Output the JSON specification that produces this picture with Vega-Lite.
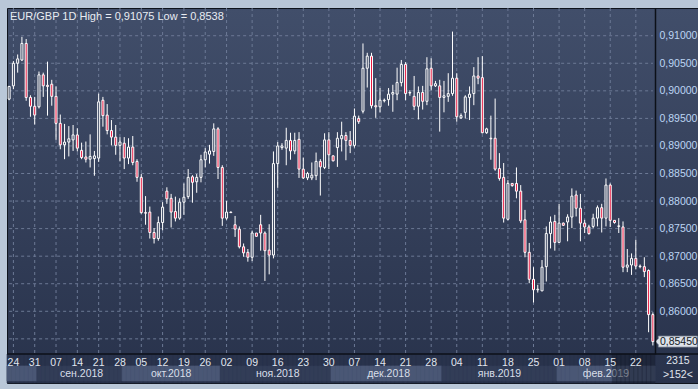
{
  "$schema": "https://vega.github.io/schema/vega-lite/v6.json",
  "width": 691,
  "height": 375,
  "autosize": {"type": "none"},
  "padding": {"left": 7, "top": 8, "right": 0, "bottom": 6},
  "background": "#b9c7d8",
  "title": {"text": "EUR/GBP 1D High = 0,91075 Low = 0,8538", "anchor": "start", "frame": "group", "orient": "top", "offset": -14, "dx": 3, "fontSize": 11, "fontWeight": "normal", "font": "Liberation Sans", "color": "#e8ecf2"},
  "config": {
    "locale": {"number": {"decimal": ",", "thousands": " ", "grouping": [3], "currency": ["", ""]}},
    "view": {
      "fill": {"gradient": "linear", "x1": 0, "y1": 0, "x2": 0, "y2": 1, "stops": [{"offset": 0, "color": "#414e6a"}, {"offset": 1, "color": "#28324b"}]},
      "stroke": "#0f141d",
      "strokeWidth": 1
    }
  },
  "resolve": {"axis": {"x": "independent", "y": "independent"}},
  "datasets": {
    "candles": [
      {"d":"2018-08-23","o":0.8985,"h":0.9009,"l":0.8983,"c":0.9008},
      {"d":"2018-08-24","o":0.9009,"h":0.9054,"l":0.9003,"c":0.9050},
      {"d":"2018-08-27","o":0.9050,"h":0.9066,"l":0.9033,"c":0.9058},
      {"d":"2018-08-28","o":0.9056,"h":0.9098,"l":0.9054,"c":0.9086},
      {"d":"2018-08-29","o":0.9086,"h":0.9094,"l":0.8982,"c":0.8988},
      {"d":"2018-08-30","o":0.8988,"h":0.8992,"l":0.8953,"c":0.8972},
      {"d":"2018-08-31","o":0.8972,"h":0.8989,"l":0.8939,"c":0.8956},
      {"d":"2018-09-03","o":0.8971,"h":0.9035,"l":0.8968,"c":0.9029},
      {"d":"2018-09-04","o":0.9029,"h":0.9033,"l":0.8989,"c":0.9009},
      {"d":"2018-09-05","o":0.9010,"h":0.9053,"l":0.8955,"c":0.9008},
      {"d":"2018-09-06","o":0.9012,"h":0.9020,"l":0.8973,"c":0.8990},
      {"d":"2018-09-07","o":0.8990,"h":0.9008,"l":0.8911,"c":0.8941},
      {"d":"2018-09-10","o":0.8941,"h":0.8957,"l":0.8894,"c":0.8902},
      {"d":"2018-09-11","o":0.8902,"h":0.8940,"l":0.8876,"c":0.8907},
      {"d":"2018-09-12","o":0.8907,"h":0.8936,"l":0.8881,"c":0.8913},
      {"d":"2018-09-13","o":0.8911,"h":0.8938,"l":0.8891,"c":0.8920},
      {"d":"2018-09-14","o":0.8920,"h":0.8932,"l":0.8890,"c":0.8896},
      {"d":"2018-09-17","o":0.8892,"h":0.8906,"l":0.8876,"c":0.8879},
      {"d":"2018-09-18","o":0.8880,"h":0.8908,"l":0.8870,"c":0.8876},
      {"d":"2018-09-19","o":0.8876,"h":0.8921,"l":0.8861,"c":0.8881},
      {"d":"2018-09-20","o":0.8877,"h":0.8891,"l":0.8846,"c":0.8882},
      {"d":"2018-09-21","o":0.8878,"h":0.8995,"l":0.8871,"c":0.8980},
      {"d":"2018-09-24","o":0.8983,"h":0.8989,"l":0.8935,"c":0.8955},
      {"d":"2018-09-25","o":0.8956,"h":0.8976,"l":0.8921,"c":0.8928},
      {"d":"2018-09-26","o":0.8928,"h":0.8947,"l":0.8901,"c":0.8916},
      {"d":"2018-09-27","o":0.8916,"h":0.8938,"l":0.8884,"c":0.8901},
      {"d":"2018-09-28","o":0.8901,"h":0.8916,"l":0.8872,"c":0.8907},
      {"d":"2018-10-01","o":0.8905,"h":0.8916,"l":0.8858,"c":0.8878},
      {"d":"2018-10-02","o":0.8878,"h":0.8914,"l":0.8867,"c":0.8898},
      {"d":"2018-10-03","o":0.8898,"h":0.8918,"l":0.8865,"c":0.8870},
      {"d":"2018-10-04","o":0.8872,"h":0.8876,"l":0.8835,"c":0.8843},
      {"d":"2018-10-05","o":0.8843,"h":0.8849,"l":0.8777,"c":0.8779},
      {"d":"2018-10-08","o":0.8779,"h":0.8809,"l":0.8757,"c":0.8778},
      {"d":"2018-10-09","o":0.8780,"h":0.8790,"l":0.8732,"c":0.8743},
      {"d":"2018-10-10","o":0.8743,"h":0.8751,"l":0.8723,"c":0.8732},
      {"d":"2018-10-11","o":0.8732,"h":0.8772,"l":0.8728,"c":0.8761},
      {"d":"2018-10-12","o":0.8761,"h":0.8798,"l":0.8747,"c":0.8789},
      {"d":"2018-10-15","o":0.8818,"h":0.8825,"l":0.8795,"c":0.8804},
      {"d":"2018-10-16","o":0.8805,"h":0.8813,"l":0.8752,"c":0.8780},
      {"d":"2018-10-17","o":0.8781,"h":0.8808,"l":0.8763,"c":0.8769},
      {"d":"2018-10-18","o":0.8769,"h":0.8805,"l":0.8766,"c":0.8798},
      {"d":"2018-10-19","o":0.8798,"h":0.8832,"l":0.8775,"c":0.8807},
      {"d":"2018-10-22","o":0.8808,"h":0.8858,"l":0.8804,"c":0.8843},
      {"d":"2018-10-23","o":0.8844,"h":0.8847,"l":0.8797,"c":0.8834},
      {"d":"2018-10-24","o":0.8835,"h":0.8849,"l":0.8815,"c":0.8843},
      {"d":"2018-10-25","o":0.8843,"h":0.8884,"l":0.8834,"c":0.8875},
      {"d":"2018-10-26","o":0.8875,"h":0.8896,"l":0.8861,"c":0.8889},
      {"d":"2018-10-29","o":0.8885,"h":0.8902,"l":0.8868,"c":0.8891},
      {"d":"2018-10-30","o":0.8890,"h":0.8941,"l":0.8882,"c":0.8931},
      {"d":"2018-10-31","o":0.8931,"h":0.8934,"l":0.8840,"c":0.8861},
      {"d":"2018-11-01","o":0.8861,"h":0.8865,"l":0.8755,"c":0.8769},
      {"d":"2018-11-02","o":0.8769,"h":0.8800,"l":0.8766,"c":0.8780},
      {"d":"2018-11-04","o":0.8780,"h":0.8781,"l":0.8779,"c":0.8779},
      {"d":"2018-11-05","o":0.8757,"h":0.8773,"l":0.8735,"c":0.8749},
      {"d":"2018-11-06","o":0.8749,"h":0.8754,"l":0.8714,"c":0.8717},
      {"d":"2018-11-07","o":0.8717,"h":0.8723,"l":0.8699,"c":0.8706},
      {"d":"2018-11-08","o":0.8707,"h":0.8713,"l":0.8690,"c":0.8698},
      {"d":"2018-11-09","o":0.8698,"h":0.8746,"l":0.8691,"c":0.8742},
      {"d":"2018-11-11","o":0.8742,"h":0.8742,"l":0.8736,"c":0.8736},
      {"d":"2018-11-12","o":0.8757,"h":0.8775,"l":0.8710,"c":0.8742},
      {"d":"2018-11-13","o":0.8742,"h":0.8745,"l":0.8655,"c":0.8710},
      {"d":"2018-11-14","o":0.8711,"h":0.8758,"l":0.8667,"c":0.8702},
      {"d":"2018-11-15","o":0.8702,"h":0.8890,"l":0.8696,"c":0.8868},
      {"d":"2018-11-16","o":0.8868,"h":0.8907,"l":0.8824,"c":0.8900},
      {"d":"2018-11-18","o":0.8897,"h":0.8905,"l":0.8893,"c":0.8900},
      {"d":"2018-11-19","o":0.8896,"h":0.8933,"l":0.8865,"c":0.8910},
      {"d":"2018-11-20","o":0.8910,"h":0.8924,"l":0.8875,"c":0.8891},
      {"d":"2018-11-21","o":0.8891,"h":0.8924,"l":0.8885,"c":0.8910},
      {"d":"2018-11-22","o":0.8912,"h":0.8925,"l":0.8842,"c":0.8858},
      {"d":"2018-11-23","o":0.8858,"h":0.8879,"l":0.8840,"c":0.8842},
      {"d":"2018-11-25","o":0.8842,"h":0.8853,"l":0.8838,"c":0.8850},
      {"d":"2018-11-26","o":0.8842,"h":0.8870,"l":0.8838,"c":0.8847},
      {"d":"2018-11-27","o":0.8846,"h":0.8888,"l":0.8838,"c":0.8872},
      {"d":"2018-11-28","o":0.8872,"h":0.8876,"l":0.8810,"c":0.8862},
      {"d":"2018-11-29","o":0.8861,"h":0.8923,"l":0.8858,"c":0.8911},
      {"d":"2018-11-30","o":0.8911,"h":0.8925,"l":0.8858,"c":0.8884},
      {"d":"2018-12-02","o":0.8882,"h":0.8883,"l":0.8872,"c":0.8873},
      {"d":"2018-12-03","o":0.8897,"h":0.8925,"l":0.8862,"c":0.8914},
      {"d":"2018-12-04","o":0.8913,"h":0.8944,"l":0.8890,"c":0.8919},
      {"d":"2018-12-05","o":0.8919,"h":0.8925,"l":0.8874,"c":0.8910},
      {"d":"2018-12-06","o":0.8910,"h":0.8927,"l":0.8887,"c":0.8901},
      {"d":"2018-12-07","o":0.8901,"h":0.8968,"l":0.8897,"c":0.8954},
      {"d":"2018-12-09","o":0.8950,"h":0.8955,"l":0.8940,"c":0.8944},
      {"d":"2018-12-10","o":0.8963,"h":0.9086,"l":0.8959,"c":0.9041},
      {"d":"2018-12-11","o":0.9041,"h":0.9069,"l":0.9006,"c":0.9063},
      {"d":"2018-12-12","o":0.9063,"h":0.9069,"l":0.8968,"c":0.8973},
      {"d":"2018-12-13","o":0.8973,"h":0.9023,"l":0.8951,"c":0.8971},
      {"d":"2018-12-14","o":0.8971,"h":0.9005,"l":0.8961,"c":0.8983},
      {"d":"2018-12-16","o":0.8982,"h":0.8986,"l":0.8979,"c":0.8983},
      {"d":"2018-12-17","o":0.8984,"h":0.9005,"l":0.8973,"c":0.8994},
      {"d":"2018-12-18","o":0.8994,"h":0.9011,"l":0.8962,"c":0.8997},
      {"d":"2018-12-19","o":0.8994,"h":0.9042,"l":0.8983,"c":0.9015},
      {"d":"2018-12-20","o":0.9015,"h":0.9056,"l":0.9008,"c":0.9048},
      {"d":"2018-12-21","o":0.9048,"h":0.9052,"l":0.8983,"c":0.8995},
      {"d":"2018-12-23","o":0.8996,"h":0.9001,"l":0.8991,"c":0.8997},
      {"d":"2018-12-24","o":0.8990,"h":0.9027,"l":0.8965,"c":0.8972},
      {"d":"2018-12-25","o":0.8972,"h":0.9008,"l":0.8948,"c":0.8997},
      {"d":"2018-12-26","o":0.8997,"h":0.9009,"l":0.8966,"c":0.8981},
      {"d":"2018-12-27","o":0.8981,"h":0.9061,"l":0.8974,"c":0.9040},
      {"d":"2018-12-28","o":0.9041,"h":0.9059,"l":0.9001,"c":0.9009},
      {"d":"2018-12-30","o":0.9009,"h":0.9018,"l":0.9007,"c":0.9013},
      {"d":"2018-12-31","o":0.9009,"h":0.9020,"l":0.8926,"c":0.8988},
      {"d":"2019-01-01","o":0.8988,"h":0.9018,"l":0.8961,"c":0.8991},
      {"d":"2019-01-02","o":0.8990,"h":0.9032,"l":0.8980,"c":0.8995},
      {"d":"2019-01-03","o":0.8995,"h":0.91075,"l":0.8991,"c":0.9023},
      {"d":"2019-01-04","o":0.9023,"h":0.9032,"l":0.8944,"c":0.8953},
      {"d":"2019-01-06","o":0.8951,"h":0.8959,"l":0.8949,"c":0.8955},
      {"d":"2019-01-07","o":0.8961,"h":0.8992,"l":0.8950,"c":0.8989},
      {"d":"2019-01-08","o":0.8988,"h":0.9008,"l":0.8947,"c":0.8994},
      {"d":"2019-01-09","o":0.8995,"h":0.9043,"l":0.8974,"c":0.9027},
      {"d":"2019-01-10","o":0.9027,"h":0.9061,"l":0.9012,"c":0.9023},
      {"d":"2019-01-11","o":0.9024,"h":0.9063,"l":0.8923,"c":0.8924},
      {"d":"2019-01-13","o":0.8924,"h":0.8933,"l":0.8922,"c":0.8931},
      {"d":"2019-01-14","o":0.8914,"h":0.8955,"l":0.8875,"c":0.8913},
      {"d":"2019-01-15","o":0.8914,"h":0.8986,"l":0.8855,"c":0.8858},
      {"d":"2019-01-16","o":0.8859,"h":0.8887,"l":0.8837,"c":0.8841},
      {"d":"2019-01-17","o":0.8843,"h":0.8869,"l":0.8761,"c":0.8769},
      {"d":"2019-01-18","o":0.8767,"h":0.8838,"l":0.8765,"c":0.8832},
      {"d":"2019-01-20","o":0.8832,"h":0.8832,"l":0.8826,"c":0.8828},
      {"d":"2019-01-21","o":0.8832,"h":0.8861,"l":0.8805,"c":0.8818},
      {"d":"2019-01-22","o":0.8818,"h":0.8829,"l":0.8760,"c":0.8764},
      {"d":"2019-01-23","o":0.8766,"h":0.8784,"l":0.8698,"c":0.8707},
      {"d":"2019-01-24","o":0.8707,"h":0.8724,"l":0.8651,"c":0.8658},
      {"d":"2019-01-25","o":0.8658,"h":0.8680,"l":0.8616,"c":0.8639},
      {"d":"2019-01-27","o":0.8639,"h":0.8648,"l":0.8634,"c":0.8640},
      {"d":"2019-01-28","o":0.8637,"h":0.8693,"l":0.8637,"c":0.8680},
      {"d":"2019-01-29","o":0.8681,"h":0.8754,"l":0.8654,"c":0.8741},
      {"d":"2019-01-30","o":0.8741,"h":0.8772,"l":0.8714,"c":0.8762},
      {"d":"2019-01-31","o":0.8763,"h":0.8775,"l":0.8710,"c":0.8725},
      {"d":"2019-02-01","o":0.8725,"h":0.8795,"l":0.8725,"c":0.8760},
      {"d":"2019-02-03","o":0.8760,"h":0.8761,"l":0.8755,"c":0.8756},
      {"d":"2019-02-04","o":0.8762,"h":0.8776,"l":0.8727,"c":0.8771},
      {"d":"2019-02-05","o":0.8771,"h":0.8823,"l":0.8751,"c":0.8809},
      {"d":"2019-02-06","o":0.8811,"h":0.8819,"l":0.8772,"c":0.8787},
      {"d":"2019-02-07","o":0.8787,"h":0.8813,"l":0.8727,"c":0.8760},
      {"d":"2019-02-08","o":0.8760,"h":0.8766,"l":0.8742,"c":0.8753},
      {"d":"2019-02-10","o":0.8753,"h":0.8757,"l":0.8739,"c":0.8741},
      {"d":"2019-02-11","o":0.8754,"h":0.8777,"l":0.8751,"c":0.8769},
      {"d":"2019-02-12","o":0.8769,"h":0.8792,"l":0.8754,"c":0.8788},
      {"d":"2019-02-13","o":0.8788,"h":0.8795,"l":0.8743,"c":0.8769},
      {"d":"2019-02-14","o":0.8769,"h":0.8841,"l":0.8754,"c":0.8829},
      {"d":"2019-02-15","o":0.8829,"h":0.8832,"l":0.8753,"c":0.8765},
      {"d":"2019-02-17","o":0.8765,"h":0.8765,"l":0.8759,"c":0.8761},
      {"d":"2019-02-18","o":0.8754,"h":0.8769,"l":0.8742,"c":0.8755},
      {"d":"2019-02-19","o":0.8753,"h":0.8763,"l":0.8671,"c":0.8680},
      {"d":"2019-02-20","o":0.8680,"h":0.8713,"l":0.8671,"c":0.8684},
      {"d":"2019-02-21","o":0.8684,"h":0.8705,"l":0.8666,"c":0.8696},
      {"d":"2019-02-22","o":0.8696,"h":0.8730,"l":0.8676,"c":0.8682},
      {"d":"2019-02-24","o":0.8682,"h":0.8685,"l":0.8678,"c":0.8681},
      {"d":"2019-02-25","o":0.8681,"h":0.8698,"l":0.8662,"c":0.8672},
      {"d":"2019-02-26","o":0.8674,"h":0.8676,"l":0.8562,"c":0.8594},
      {"d":"2019-02-27","o":0.8594,"h":0.8598,"l":0.8538,"c":0.8545}
    ],
    "gridy": [
      {"p":0.855,"a":"2018-08-23","b":"2019-02-27"},{"p":0.860,"a":"2018-08-23","b":"2019-02-27"},{"p":0.865,"a":"2018-08-23","b":"2019-02-27"},{"p":0.870,"a":"2018-08-23","b":"2019-02-27"},{"p":0.875,"a":"2018-08-23","b":"2019-02-27"},{"p":0.880,"a":"2018-08-23","b":"2019-02-27"},{"p":0.885,"a":"2018-08-23","b":"2019-02-27"},{"p":0.890,"a":"2018-08-23","b":"2019-02-27"},{"p":0.895,"a":"2018-08-23","b":"2019-02-27"},{"p":0.900,"a":"2018-08-23","b":"2019-02-27"},{"p":0.905,"a":"2018-08-23","b":"2019-02-27"},{"p":0.910,"a":"2018-08-23","b":"2019-02-27"}
    ],
    "gridx": [{"d":"2018-08-24"},{"d":"2018-08-31"},{"d":"2018-09-07"},{"d":"2018-09-14"},{"d":"2018-09-21"},{"d":"2018-09-28"},{"d":"2018-10-05"},{"d":"2018-10-12"},{"d":"2018-10-19"},{"d":"2018-10-26"},{"d":"2018-11-02"},{"d":"2018-11-09"},{"d":"2018-11-16"},{"d":"2018-11-23"},{"d":"2018-11-30"},{"d":"2018-12-07"},{"d":"2018-12-14"},{"d":"2018-12-21"},{"d":"2018-12-28"},{"d":"2019-01-04"},{"d":"2019-01-11"},{"d":"2019-01-18"},{"d":"2019-01-25"},{"d":"2019-02-01"},{"d":"2019-02-08"},{"d":"2019-02-15"},{"d":"2019-02-22"}],
    "months": [{"d":"2018-09-17","t":"сен.2018"},{"d":"2018-10-16","t":"окт.2018"},{"d":"2018-11-16","t":"ноя.2018"},{"d":"2018-12-17","t":"дек.2018"},{"d":"2019-01-16","t":"янв.2019"},{"d":"2019-02-14","t":"фев.2019"}]
  },
  "layer": [
    {
      "data": {"name": "gridx"},
      "mark": {"type": "rule", "color": "#6c7995", "strokeWidth": 1, "strokeDash": [3, 3]},
      "encoding": {
        "x": {"field": "d", "type": "ordinal", "scale": {"type": "band", "paddingInner": 0, "paddingOuter": 0, "range": [0, 648]}, "axis": null}
      }
    },
    {
      "data": {"name": "gridy"},
      "transform": [{"fold": ["a", "b"], "as": ["k", "dd"]}],
      "mark": {"type": "line", "color": "#6c7995", "strokeWidth": 1, "strokeDash": [3, 3], "interpolate": "linear"},
      "encoding": {
        "x": {"field": "dd", "type": "ordinal", "scale": {"type": "band", "paddingInner": 0, "paddingOuter": 0, "range": [0, 648]}, "axis": null},
        "y": {"field": "p", "type": "quantitative", "scale": {"type": "linear", "domain": [0.85225, 0.91503], "range": [346, 0], "nice": false, "zero": false}, "axis": null},
        "detail": {"field": "p", "type": "nominal"}
      }
    },
    {
      "data": {"name": "candles"},
      "mark": {"type": "bar", "fill": "#29334c", "stroke": "#29334c", "strokeWidth": 0.6},
      "encoding": {
        "x": {"field": "d", "type": "ordinal", "scale": {"type": "band", "paddingInner": 0, "paddingOuter": 0, "range": [0, 648]}, "axis": null},
        "y": {"datum": 0.85225, "type": "quantitative", "scale": {"type": "linear", "domain": [0.85225, 0.91503], "range": [346, 0], "nice": false, "zero": false}, "axis": null},
        "y2": {"datum": 0.84700}
      }
    },
    {
      "data": {"name": "candles"},
      "mark": {"type": "bar", "strokeWidth": 0.6},
      "encoding": {
        "x": {"field": "d", "type": "ordinal", "scale": {"type": "band", "paddingInner": 0, "paddingOuter": 0, "range": [0, 648]}, "axis": null},
        "y": {"datum": 0.85008, "type": "quantitative", "scale": {"type": "linear", "domain": [0.85225, 0.91503], "range": [346, 0], "nice": false, "zero": false}, "axis": null},
        "y2": {"datum": 0.84736},
        "fill": {"condition": {"test": "utcmonth(toDate(datum.d)) % 2 == 1", "value": "#4a5775"}, "value": "#323d57"},
        "stroke": {"condition": {"test": "utcmonth(toDate(datum.d)) % 2 == 1", "value": "#4a5775"}, "value": "#323d57"}
      }
    },
    {
      "data": {"name": "months"},
      "mark": {"type": "text", "fontSize": 10.5, "font": "Liberation Sans", "color": "#d9dfe9", "baseline": "middle", "align": "center"},
      "encoding": {
        "x": {"field": "d", "type": "ordinal", "scale": {"type": "band", "paddingInner": 0, "paddingOuter": 0, "range": [0, 648]}, "axis": null},
        "y": {"datum": 0.84863, "type": "quantitative", "scale": {"type": "linear", "domain": [0.85225, 0.91503], "range": [346, 0], "nice": false, "zero": false}, "axis": null},
        "text": {"field": "t"}
      }
    },
    {
      "data": {"name": "candles"},
      "transform": [{"filter": "datum.d >= '2019-02-17'"}],
      "mark": {"type": "bar", "fill": "#141a28", "stroke": "#141a28", "strokeWidth": 0.6, "opacity": 0.45},
      "encoding": {
        "x": {"field": "d", "type": "ordinal", "scale": {"type": "band", "paddingInner": 0, "paddingOuter": 0, "range": [0, 648]}, "axis": null},
        "y": {"datum": 0.85225, "type": "quantitative", "scale": {"type": "linear", "domain": [0.85225, 0.91503], "range": [346, 0], "nice": false, "zero": false}, "axis": null},
        "y2": {"datum": 0.84700}
      }
    },
    {
      "data": {"values": [{}]},
      "mark": {"type": "rule", "color": "#0c1018", "strokeWidth": 1.5},
      "encoding": {
        "y": {"datum": 0.85225, "type": "quantitative", "scale": {"type": "linear", "domain": [0.85225, 0.91503], "range": [346, 0], "nice": false, "zero": false}, "axis": null}
      }
    },
    {
      "data": {"name": "candles"},
      "mark": {"type": "rule", "color": "#ffffff", "strokeWidth": 1},
      "encoding": {
        "x": {"field": "d", "type": "ordinal", "scale": {"type": "band", "paddingInner": 0, "paddingOuter": 0, "range": [0, 648]}, "axis": null},
        "y": {"field": "l", "type": "quantitative", "scale": {"type": "linear", "domain": [0.85225, 0.91503], "range": [346, 0], "nice": false, "zero": false}, "axis": null},
        "y2": {"field": "h"}
      }
    },
    {
      "data": {"name": "candles"},
      "mark": {"type": "bar", "size": 2, "stroke": "#ffffff", "strokeWidth": 1},
      "encoding": {
        "x": {"field": "d", "type": "ordinal", "scale": {"type": "band", "paddingInner": 0, "paddingOuter": 0, "range": [0, 648]},
          "axis": {"orient": "bottom", "offset": -29, "zindex": 1, "title": null, "domain": false, "ticks": false, "grid": false, "labelAngle": 0, "labelPadding": 3, "labelFontSize": 10.5, "labelFont": "Liberation Sans", "labelColor": "#e0e6ef", "labelOverlap": false, "labelFlush": false, "labelBound": false,
            "values": ["2018-08-24","2018-08-31","2018-09-07","2018-09-14","2018-09-21","2018-09-28","2018-10-05","2018-10-12","2018-10-19","2018-10-26","2018-11-02","2018-11-09","2018-11-16","2018-11-23","2018-11-30","2018-12-07","2018-12-14","2018-12-21","2018-12-28","2019-01-04","2019-01-11","2019-01-18","2019-01-25","2019-02-01","2019-02-08","2019-02-15","2019-02-22"],
            "labelExpr": "utcFormat(toDate(datum.value), '%d')"}},
        "y": {"field": "o", "type": "quantitative", "scale": {"type": "linear", "domain": [0.85225, 0.91503], "range": [346, 0], "nice": false, "zero": false},
          "axis": {"orient": "right", "offset": -43, "zindex": 1, "title": null, "grid": false, "ticks": false, "domain": true, "domainColor": "#0c1018", "domainWidth": 1.5, "labelPadding": 4, "labelFontSize": 10.5, "labelFont": "Liberation Sans", "labelColor": "#bcd5f3", "format": ".5f", "labelOverlap": false, "labelFlush": false, "labelBound": false,
            "values": [0.86, 0.865, 0.87, 0.875, 0.88, 0.885, 0.89, 0.895, 0.9, 0.905, 0.91]}},
        "y2": {"field": "c"},
        "fill": {"condition": {"test": "datum.c < datum.o", "value": "#e8173f"}, "value": "#37435d"}
      }
    },
    {
      "data": {"name": "candles"},
      "transform": [{"filter": "datum.d == '2019-02-27'"}],
      "mark": {"type": "point", "filled": true, "shape": "M -0.98 0 L -0.84 -0.14 L -0.84 -0.25 L 0.93 -0.25 L 0.93 0.25 L -0.84 0.25 L -0.84 0.14 Z", "size": 1936, "xOffset": 24, "color": "#dde2ea", "stroke": "#7c8594", "strokeWidth": 0.8, "opacity": 1},
      "encoding": {
        "x": {"field": "d", "type": "ordinal", "scale": {"type": "band", "paddingInner": 0, "paddingOuter": 0, "range": [0, 648]}, "axis": null},
        "y": {"field": "c", "type": "quantitative", "scale": {"type": "linear", "domain": [0.85225, 0.91503], "range": [346, 0], "nice": false, "zero": false}, "axis": null}
      }
    },
    {
      "data": {"name": "candles"},
      "transform": [{"filter": "datum.d == '2019-02-27'"}],
      "mark": {"type": "text", "xOffset": 26, "fontSize": 10.5, "font": "Liberation Sans", "color": "#141a26", "align": "center", "baseline": "middle"},
      "encoding": {
        "x": {"field": "d", "type": "ordinal", "scale": {"type": "band", "paddingInner": 0, "paddingOuter": 0, "range": [0, 648]}, "axis": null},
        "y": {"field": "c", "type": "quantitative", "scale": {"type": "linear", "domain": [0.85225, 0.91503], "range": [346, 0], "nice": false, "zero": false}, "axis": null},
        "text": {"field": "c", "format": ".5f"}
      }
    },
    {
      "data": {"values": [{}]},
      "mark": {"type": "text", "text": "2315", "xOffset": 25, "fontSize": 10.5, "font": "Liberation Sans", "color": "#e0e6ef", "align": "center", "baseline": "middle"},
      "encoding": {
        "x": {"datum": "2019-02-27", "type": "ordinal", "scale": {"type": "band", "paddingInner": 0, "paddingOuter": 0, "range": [0, 648]}, "axis": null},
        "y": {"datum": 0.85098, "type": "quantitative", "scale": {"type": "linear", "domain": [0.85225, 0.91503], "range": [346, 0], "nice": false, "zero": false}, "axis": null}
      }
    },
    {
      "data": {"values": [{}]},
      "mark": {"type": "text", "text": ">152<", "xOffset": 25, "fontSize": 10.5, "font": "Liberation Sans", "color": "#e0e6ef", "align": "center", "baseline": "middle"},
      "encoding": {
        "x": {"datum": "2019-02-27", "type": "ordinal", "scale": {"type": "band", "paddingInner": 0, "paddingOuter": 0, "range": [0, 648]}, "axis": null},
        "y": {"datum": 0.84845, "type": "quantitative", "scale": {"type": "linear", "domain": [0.85225, 0.91503], "range": [346, 0], "nice": false, "zero": false}, "axis": null}
      }
    }
  ]
}
